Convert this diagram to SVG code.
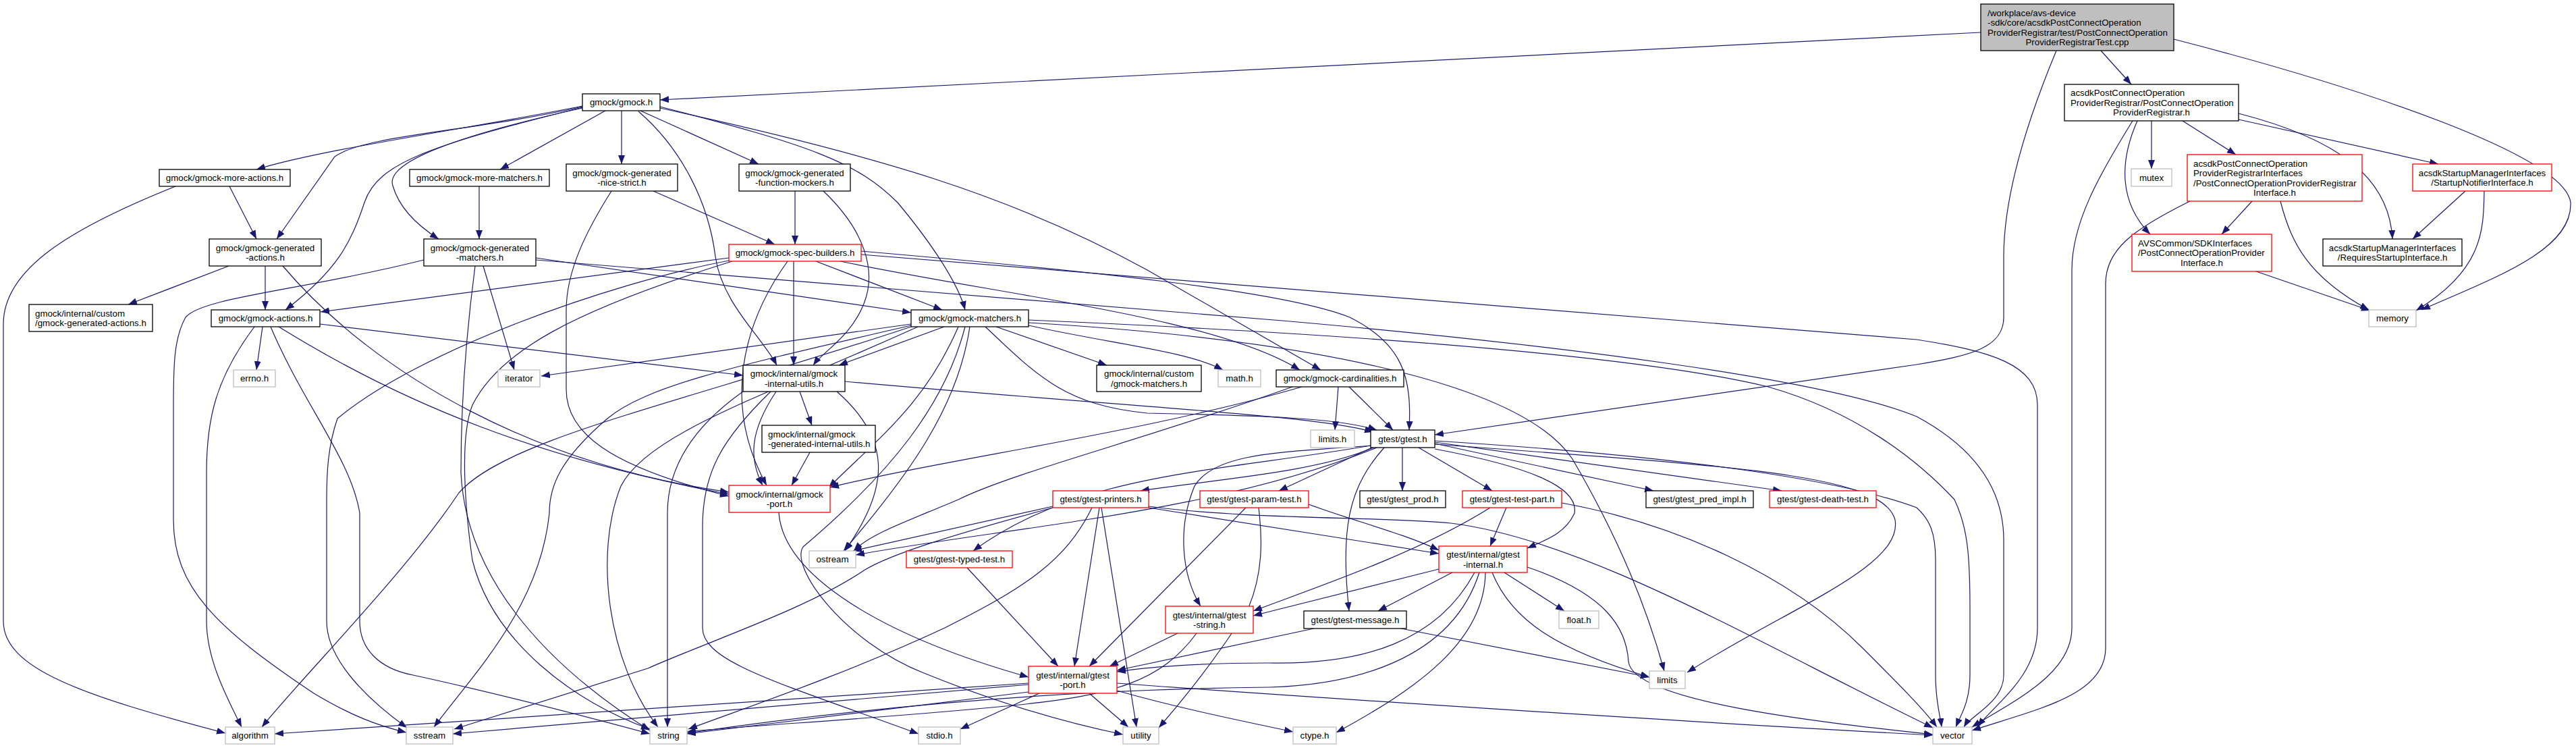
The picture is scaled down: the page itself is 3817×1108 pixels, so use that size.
<svg xmlns="http://www.w3.org/2000/svg" width="3817" height="1108" viewBox="0 0 3817 1108">
<style>
rect{fill:#fff;stroke:#000;stroke-width:1.3}
.r rect{stroke:#f00}
.g rect{stroke:#bfbfbf}
.top rect{fill:#bfbfbf}
text{font-family:"Liberation Sans",Arial,sans-serif;font-size:13.3px;fill:#000}
.c{text-anchor:middle}
#edges path{fill:none;stroke:#191970;stroke-width:1.2;marker-end:url(#a)}
</style>
<defs>
<marker id="a" markerUnits="userSpaceOnUse" markerWidth="14" markerHeight="11" refX="13" refY="5" orient="auto"><path d="M0,0 L13,5 L0,10 z" fill="#191970" stroke="none"/></marker>
</defs>
<rect x="0" y="0" width="3817" height="1108" style="stroke:none;fill:#fff"/>
<g id="edges">
<path d="M2935,48 L978,148"/>
<path d="M3113,75 L3158,125"/>
<path d="M3047,75 C2995,200 2969,300 2969,380 L2969,470 C2969,515 2920,527 2840,540 L2126,644"/>
<path d="M3221,58 C3500,130 3800,230 3809,300 C3812,370 3700,410 3588,459"/>
<path d="M3188,179 L3188,250"/>
<path d="M3234,179 L3313,229"/>
<path d="M3167,179 C3140,240 3140,300 3186,347"/>
<path d="M3160,179 C3110,260 3070,330 3070,400 L3070,930 C3070,1000 2980,1040 2922,1077"/>
<path d="M3317,177 L3613,243"/>
<path d="M3317,168 C3460,205 3540,260 3545,354"/>
<path d="M3337,298 L3292,347"/>
<path d="M3379,298 C3395,360 3420,410 3510,459"/>
<path d="M3245,298 C3160,340 3120,370 3120,420 L3120,960 C3120,1030 3020,1050 2922,1082"/>
<path d="M3343,402 L3512,460"/>
<path d="M3653,283 L3575,354"/>
<path d="M3681,283 C3680,340 3680,400 3580,460"/>
<path d="M863,157 C700,190 480,220 380,251"/>
<path d="M863,158 C700,195 540,200 496,232 L410,354"/>
<path d="M863,159 C640,215 560,240 540,300 C520,360 500,400 423,459"/>
<path d="M863,160 C680,200 570,240 582,275 C592,310 620,335 650,354"/>
<path d="M897,164 L741,251"/>
<path d="M921,164 L921,243"/>
<path d="M949,164 L1124,243"/>
<path d="M946,165 C1010,220 1050,300 1060,380 C1070,450 1130,500 1151,541"/>
<path d="M978,158 C1200,215 1270,240 1330,300 C1380,360 1420,420 1430,459"/>
<path d="M978,160 C1300,230 1500,290 1700,400 L1957,548"/>
<path d="M968,283 L1148,362"/>
<path d="M906,283 C870,340 839,400 839,460 L839,577 C839,640 900,690 1080,735"/>
<path d="M1178,283 L1178,362"/>
<path d="M1220,283 C1280,340 1300,400 1280,450 C1260,500 1220,520 1205,541"/>
<path d="M710,276 L710,354"/>
<path d="M340,276 L380,354"/>
<path d="M260,276 C100,340 5,400 5,480 L5,920 C5,990 120,1030 334,1086"/>
<path d="M339,394 L190,451"/>
<path d="M393,394 L393,459"/>
<path d="M419,394 C560,560 800,690 1080,729"/>
<path d="M628,385 C450,430 300,440 275,470 C258,500 257,540 257,600 L257,770 C257,870 320,930 465,1027 C520,1060 560,1075 602,1085"/>
<path d="M704,394 C690,500 683,600 683,700 C690,850 800,980 963,1082"/>
<path d="M716,394 L762,548"/>
<path d="M794,382 L1350,463"/>
<path d="M794,385 L1900,475 C2300,510 2700,560 2840,617 C2920,660 2969,720 2969,800 L2969,1000 C2969,1040 2920,1060 2910,1077"/>
<path d="M1080,382 L475,462"/>
<path d="M1245,387 C1500,440 1800,470 1926,548"/>
<path d="M1276,372 C1600,400 1900,430 2000,470 C2080,510 2092,560 2088,637"/>
<path d="M1276,377 L2840,503 C2950,520 3019,540 3019,600 L3019,930 C3019,1000 2960,1040 2930,1076"/>
<path d="M1209,387 L1396,459"/>
<path d="M1176,387 L1176,541"/>
<path d="M1167,387 C1100,480 1070,600 1136,719"/>
<path d="M1080,386 C900,420 620,520 500,620 C486,660 484,700 484,740 L484,920 C484,980 550,1040 603,1078"/>
<path d="M1085,387 C850,460 740,520 700,600 C680,650 690,760 700,830 C730,950 850,1040 963,1080"/>
<path d="M1350,480 L802,557"/>
<path d="M1399,484 L1243,541"/>
<path d="M1476,484 L1640,541"/>
<path d="M1524,482 C1650,510 1760,520 1812,548"/>
<path d="M1460,484 C1540,560 1580,600 1700,612 C1850,615 1980,618 2040,637"/>
<path d="M1524,478 C1900,500 2250,560 2330,680 C2400,800 2440,900 2466,994"/>
<path d="M1524,474 C1900,490 2400,520 2620,573 C2750,610 2840,680 2896,740 C2915,780 2919,820 2919,900 L2919,1000 C2919,1040 2905,1060 2898,1077"/>
<path d="M1437,484 C1420,600 1350,700 1250,816"/>
<path d="M1420,484 C1370,600 1300,650 1228,722"/>
<path d="M1430,484 C1400,600 1320,700 1190,810 C1170,840 1250,950 1369,997 C1500,1050 1600,1075 1664,1088"/>
<path d="M1360,484 C1150,580 960,640 920,720 C880,820 900,980 975,1077"/>
<path d="M1350,484 C1000,600 750,650 680,730 C600,850 450,1000 388,1077"/>
<path d="M1350,482 C1100,540 960,570 900,620 C830,680 814,720 814,760 C800,900 700,1000 643,1077"/>
<path d="M1185,580 L1203,630"/>
<path d="M1150,580 C1110,640 1110,680 1130,719"/>
<path d="M1240,580 C1320,650 1320,720 1252,816"/>
<path d="M1101,580 C1030,630 989,690 989,760 L989,1077"/>
<path d="M1142,580 C1070,650 1041,700 1041,780 L1041,930 C1041,980 1150,1010 1361,1087"/>
<path d="M1252,565 C1700,605 1950,615 2035,640"/>
<path d="M1983,573 L1978,637"/>
<path d="M1999,573 L2064,637"/>
<path d="M1929,573 C1700,640 1400,680 1230,722"/>
<path d="M1915,573 C1700,650 1500,700 1420,740 C1350,770 1290,790 1265,816"/>
<path d="M389,484 L380,548"/>
<path d="M377,484 C320,560 306,620 306,700 L306,920 C306,980 340,1040 358,1077"/>
<path d="M401,484 C450,600 520,680 533,760 L533,920 C533,960 560,990 612,1000 C750,1030 900,1070 963,1087"/>
<path d="M413,484 C600,600 800,680 1080,732"/>
<path d="M474,480 L1101,556"/>
<path d="M1200,670 L1173,719"/>
<path d="M1154,759 C1160,850 1300,940 1524,1003"/>
<path d="M2078,663 L2078,727"/>
<path d="M2102,663 L2211,727"/>
<path d="M2033,663 L1895,727"/>
<path d="M2126,657 L2450,727"/>
<path d="M2126,655 L2640,727"/>
<path d="M2126,653 C2400,670 2700,700 2840,752 C2860,770 2868,790 2868,830 L2868,1000 C2868,1040 2875,1060 2877,1077"/>
<path d="M2126,658 C2550,690 2790,700 2808,770 C2820,840 2650,900 2500,996"/>
<path d="M2040,663 C1800,760 1500,780 1268,822"/>
<path d="M2035,663 C1950,700 1800,710 1690,727"/>
<path d="M2126,665 C2260,690 2340,720 2333,760 C2320,790 2290,800 2263,812"/>
<path d="M2051,663 C2000,720 1985,780 1999,905"/>
<path d="M2033,660 C1900,670 1800,670 1770,720 C1745,780 1750,850 1779,898"/>
<path d="M2031,660 C1800,700 1600,700 1442,816"/>
<path d="M1560,750 L1264,816"/>
<path d="M1560,752 C1420,790 1320,820 1280,845 C1200,900 1050,950 960,990 L673,1080"/>
<path d="M1618,752 C1580,830 1520,870 1400,930 C1250,1000 1100,1050 1020,1080"/>
<path d="M1629,752 L1592,987"/>
<path d="M1632,752 L1684,1077"/>
<path d="M1702,750 C1850,770 2050,765 2150,775 C2350,800 2600,950 2864,1078"/>
<path d="M1702,752 L2132,820"/>
<path d="M1846,752 L1614,987"/>
<path d="M1865,752 C1871,800 1871,850 1850,900 C1800,980 1750,1040 1717,1078"/>
<path d="M1939,747 C2000,770 2080,790 2132,815"/>
<path d="M1433,841 L1568,987"/>
<path d="M2232,752 L2208,809"/>
<path d="M2208,752 C2100,820 1950,870 1857,905"/>
<path d="M2314,745 C2480,775 2650,850 2760,960 C2810,1010 2850,1050 2870,1077"/>
<path d="M2152,848 L2042,905"/>
<path d="M2229,848 L2318,905"/>
<path d="M2211,848 C2240,920 2309,963 2444,1003"/>
<path d="M2201,848 C2200,950 2100,1020 1980,1085"/>
<path d="M2263,840 C2380,880 2410,930 2413,980 C2420,1040 2700,1070 2864,1088"/>
<path d="M2185,848 C2130,950 2020,985 1880,982 C1780,982 1700,988 1655,995"/>
<path d="M2192,848 C2150,980 2000,1015 1880,1018 C1700,1020 1400,1030 1018,1086"/>
<path d="M2132,843 L1857,912"/>
<path d="M1745,938 L1644,987"/>
<path d="M1773,938 C1720,1010 1650,1030 1500,1045 C1300,1065 1100,1075 1018,1084"/>
<path d="M2076,931 L2444,1003"/>
<path d="M1947,931 L1655,993"/>
<path d="M1524,1012 L407,1087"/>
<path d="M1524,1014 L671,1087"/>
<path d="M1524,1025 L1018,1087"/>
<path d="M1540,1027 L1423,1080"/>
<path d="M1614,1027 L1672,1077"/>
<path d="M1655,1023 C1750,1050 1850,1070 1916,1084"/>
<path d="M1655,1012 C1900,1030 2500,1070 2864,1089"/>
</g>
<g id="n-top" class="top"><rect x="2935" y="6" width="286" height="69"/><text x="2945" y="23.5">/workplace/avs-device</text><text x="2945" y="38">-sdk/core/acsdkPostConnectOperation</text><text x="2945" y="52.5">ProviderRegistrar/test/PostConnectOperation</text><text class="c" x="3078" y="67">ProviderRegistrarTest.cpp</text></g>
<g id="n-gmock"><rect x="863" y="139" width="115" height="25"/><text class="c" x="920.5" y="156">gmock/gmock.h</text></g>
<g id="n-pcopr"><rect x="3059" y="125" width="258" height="54"/><text x="3068" y="142">acsdkPostConnectOperation</text><text x="3068" y="156.5">ProviderRegistrar/PostConnectOperation</text><text class="c" x="3188" y="171">ProviderRegistrar.h</text></g>
<g id="n-more-actions"><rect x="236" y="251" width="194" height="25"/><text class="c" x="333" y="268">gmock/gmock-more-actions.h</text></g>
<g id="n-more-matchers"><rect x="607" y="251" width="207" height="25"/><text class="c" x="710.5" y="268">gmock/gmock-more-matchers.h</text></g>
<g id="n-nice-strict"><rect x="839" y="243" width="165" height="40"/><text class="c" x="921.5" y="260.5">gmock/gmock-generated</text><text class="c" x="921.5" y="275">-nice-strict.h</text></g>
<g id="n-function-mockers"><rect x="1095" y="243" width="165" height="40"/><text class="c" x="1177.5" y="260.5">gmock/gmock-generated</text><text class="c" x="1177.5" y="275">-function-mockers.h</text></g>
<g id="n-gen-actions"><rect x="310" y="354" width="166" height="40"/><text class="c" x="393" y="371.5">gmock/gmock-generated</text><text class="c" x="393" y="386">-actions.h</text></g>
<g id="n-gen-matchers"><rect x="628" y="354" width="166" height="40"/><text class="c" x="711" y="371.5">gmock/gmock-generated</text><text class="c" x="711" y="386">-matchers.h</text></g>
<g id="n-spec-builders" class="r"><rect x="1080" y="362" width="196" height="25"/><text class="c" x="1178" y="379">gmock/gmock-spec-builders.h</text></g>
<g id="n-custom-gen-actions"><rect x="43" y="451" width="183" height="40"/><text x="52" y="468.5">gmock/internal/custom</text><text x="52" y="483">/gmock-generated-actions.h</text></g>
<g id="n-actions"><rect x="313" y="459" width="161" height="25"/><text class="c" x="393.5" y="476">gmock/gmock-actions.h</text></g>
<g id="n-errno" class="g"><rect x="346" y="548" width="62" height="25"/><text class="c" x="377" y="565">errno.h</text></g>
<g id="n-iterator" class="g"><rect x="738" y="548" width="62" height="25"/><text class="c" x="769" y="565">iterator</text></g>
<g id="n-matchers"><rect x="1350" y="459" width="174" height="25"/><text class="c" x="1437" y="476">gmock/gmock-matchers.h</text></g>
<g id="n-internal-utils"><rect x="1101" y="541" width="151" height="39"/><text class="c" x="1176.5" y="558">gmock/internal/gmock</text><text class="c" x="1176.5" y="572.5">-internal-utils.h</text></g>
<g id="n-custom-matchers"><rect x="1625" y="541" width="155" height="39"/><text class="c" x="1702.5" y="558">gmock/internal/custom</text><text class="c" x="1702.5" y="572.5">/gmock-matchers.h</text></g>
<g id="n-math" class="g"><rect x="1805" y="548" width="63" height="25"/><text class="c" x="1836.5" y="565">math.h</text></g>
<g id="n-cardinalities"><rect x="1891" y="548" width="189" height="25"/><text class="c" x="1985.5" y="565">gmock/gmock-cardinalities.h</text></g>
<g id="n-limits-h" class="g"><rect x="1942" y="637" width="65" height="26"/><text class="c" x="1974.5" y="654.7">limits.h</text></g>
<g id="n-gtest"><rect x="2031" y="637" width="95" height="26"/><text class="c" x="2078.5" y="654.7">gtest/gtest.h</text></g>
<g id="n-gen-internal-utils"><rect x="1129" y="630" width="168" height="40"/><text x="1138" y="647.5">gmock/internal/gmock</text><text x="1138" y="662">-generated-internal-utils.h</text></g>
<g id="n-gmock-port" class="r"><rect x="1080" y="719" width="150" height="40"/><text class="c" x="1155" y="736.5">gmock/internal/gmock</text><text class="c" x="1155" y="751">-port.h</text></g>
<g id="n-printers" class="r"><rect x="1560" y="727" width="142" height="25"/><text class="c" x="1631" y="744">gtest/gtest-printers.h</text></g>
<g id="n-param-test" class="r"><rect x="1778" y="727" width="161" height="25"/><text class="c" x="1858.5" y="744">gtest/gtest-param-test.h</text></g>
<g id="n-prod"><rect x="2015" y="727" width="127" height="25"/><text class="c" x="2078.5" y="744">gtest/gtest_prod.h</text></g>
<g id="n-test-part" class="r"><rect x="2167" y="727" width="147" height="25"/><text class="c" x="2240.5" y="744">gtest/gtest-test-part.h</text></g>
<g id="n-pred-impl"><rect x="2439" y="727" width="159" height="25"/><text class="c" x="2518.5" y="744">gtest/gtest_pred_impl.h</text></g>
<g id="n-death-test" class="r"><rect x="2622" y="727" width="158" height="25"/><text class="c" x="2701" y="744">gtest/gtest-death-test.h</text></g>
<g id="n-ostream" class="g"><rect x="1199" y="816" width="69" height="25"/><text class="c" x="1233.5" y="833">ostream</text></g>
<g id="n-typed-test" class="r"><rect x="1343" y="816" width="157" height="25"/><text class="c" x="1421.5" y="833">gtest/gtest-typed-test.h</text></g>
<g id="n-gtest-internal" class="r"><rect x="2132" y="809" width="131" height="39"/><text class="c" x="2197.5" y="826">gtest/internal/gtest</text><text class="c" x="2197.5" y="840.5">-internal.h</text></g>
<g id="n-gtest-string" class="r"><rect x="1727" y="898" width="130" height="40"/><text class="c" x="1792" y="915.5">gtest/internal/gtest</text><text class="c" x="1792" y="930">-string.h</text></g>
<g id="n-gtest-message"><rect x="1932" y="905" width="152" height="26"/><text class="c" x="2008" y="922.7">gtest/gtest-message.h</text></g>
<g id="n-float" class="g"><rect x="2310" y="905" width="59" height="26"/><text class="c" x="2339.5" y="922.7">float.h</text></g>
<g id="n-gtest-port" class="r"><rect x="1524" y="987" width="131" height="40"/><text class="c" x="1589.5" y="1004.5">gtest/internal/gtest</text><text class="c" x="1589.5" y="1019">-port.h</text></g>
<g id="n-limits" class="g"><rect x="2444" y="994" width="53" height="26"/><text class="c" x="2470.5" y="1011.7">limits</text></g>
<g id="n-algorithm" class="g"><rect x="334" y="1077" width="73" height="25"/><text class="c" x="370.5" y="1094">algorithm</text></g>
<g id="n-sstream" class="g"><rect x="602" y="1077" width="69" height="25"/><text class="c" x="636.5" y="1094">sstream</text></g>
<g id="n-string" class="g"><rect x="963" y="1077" width="55" height="25"/><text class="c" x="990.5" y="1094">string</text></g>
<g id="n-stdio" class="g"><rect x="1361" y="1077" width="62" height="25"/><text class="c" x="1392" y="1094">stdio.h</text></g>
<g id="n-utility" class="g"><rect x="1664" y="1077" width="53" height="25"/><text class="c" x="1690.5" y="1094">utility</text></g>
<g id="n-ctype" class="g"><rect x="1916" y="1077" width="64" height="25"/><text class="c" x="1948" y="1094">ctype.h</text></g>
<g id="n-vector" class="g"><rect x="2864" y="1077" width="58" height="25"/><text class="c" x="2893" y="1094">vector</text></g>
<g id="n-mutex" class="g"><rect x="3158" y="250" width="60" height="26"/><text class="c" x="3188" y="267.7">mutex</text></g>
<g id="n-pcopri" class="r"><rect x="3241" y="229" width="259" height="69"/><text x="3250" y="246.5">acsdkPostConnectOperation</text><text x="3250" y="261">ProviderRegistrarInterfaces</text><text x="3250" y="275.5">/PostConnectOperationProviderRegistrar</text><text class="c" x="3370.5" y="290">Interface.h</text></g>
<g id="n-startup-notifier" class="r"><rect x="3575" y="243" width="206" height="40"/><text class="c" x="3678" y="260.5">acsdkStartupManagerInterfaces</text><text class="c" x="3678" y="275">/StartupNotifierInterface.h</text></g>
<g id="n-avs-pcop" class="r"><rect x="3159" y="347" width="207" height="55"/><text x="3168" y="364.7">AVSCommon/SDKInterfaces</text><text x="3168" y="379.2">/PostConnectOperationProvider</text><text class="c" x="3262.5" y="393.7">Interface.h</text></g>
<g id="n-requires-startup"><rect x="3442" y="354" width="206" height="40"/><text class="c" x="3545" y="371.5">acsdkStartupManagerInterfaces</text><text class="c" x="3545" y="386">/RequiresStartupInterface.h</text></g>
<g id="n-memory" class="g"><rect x="3510" y="459" width="70" height="25"/><text class="c" x="3545" y="476">memory</text></g>
</svg>
